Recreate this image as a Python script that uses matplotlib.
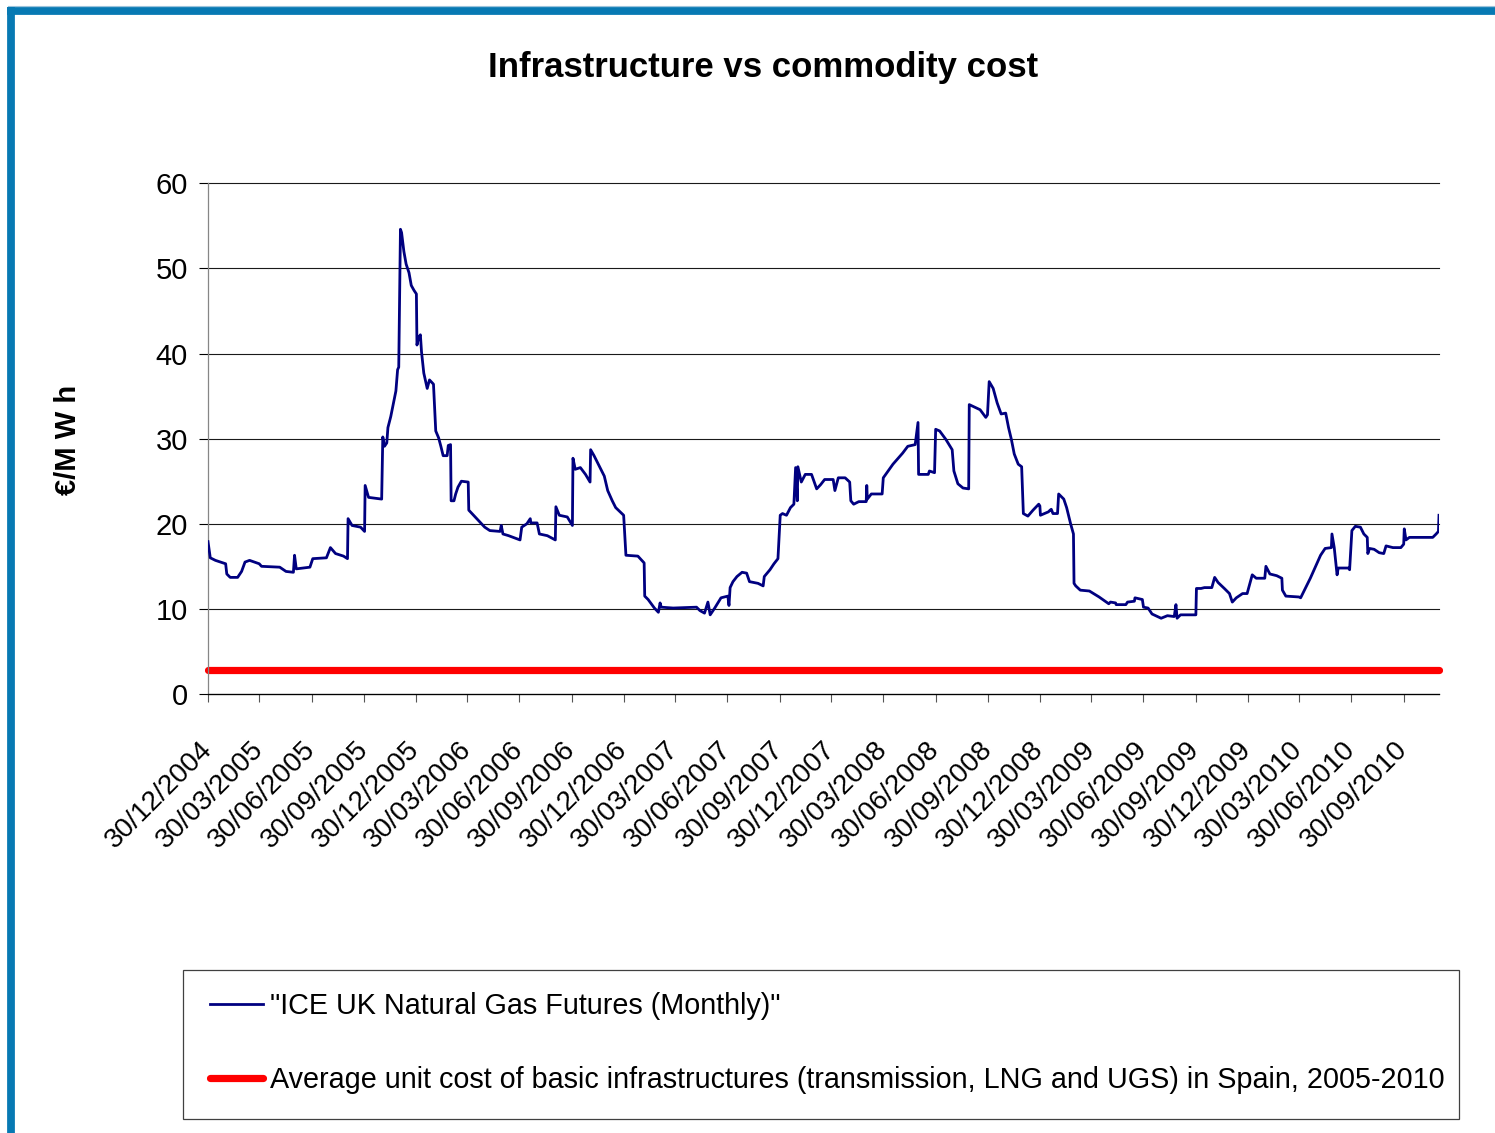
import matplotlib
matplotlib.use('Agg')
import matplotlib.pyplot as plt
from matplotlib import font_manager as fm
from matplotlib.lines import Line2D
from matplotlib.patches import Rectangle
import pandas as pd

# ---------------- data ----------------
title = "Infrastructure vs commodity cost"
y_label = "€/M W h"
gas_label = '"ICE UK Natural Gas Futures (Monthly)"'
infra_label = "Average unit cost of basic infrastructures (transmission, LNG and UGS) in Spain, 2005-2010"

gas_dates = [
    "2004-12-30", "2005-01-03", "2005-01-12", "2005-01-21", "2005-01-30", "2005-02-01", "2005-02-07",
    "2005-02-20", "2005-02-27", "2005-03-05", "2005-03-13", "2005-03-30", "2005-04-03", "2005-05-05",
    "2005-05-16", "2005-05-29", "2005-05-31", "2005-06-03", "2005-06-27", "2005-07-02", "2005-07-26",
    "2005-08-02", "2005-08-11", "2005-08-25", "2005-09-01", "2005-09-02", "2005-09-09", "2005-09-24",
    "2005-10-01", "2005-10-02", "2005-10-08", "2005-10-31", "2005-11-02", "2005-11-05", "2005-11-09",
    "2005-11-11", "2005-11-16", "2005-11-19", "2005-11-25", "2005-11-28", "2005-11-30", "2005-12-03",
    "2005-12-05", "2005-12-09", "2005-12-13", "2005-12-18", "2005-12-22", "2005-12-27", "2005-12-31",
    "2006-01-01", "2006-01-04", "2006-01-07", "2006-01-09", "2006-01-13", "2006-01-19", "2006-01-23",
    "2006-01-30", "2006-02-03", "2006-02-08", "2006-02-12", "2006-02-16", "2006-02-23", "2006-02-25",
    "2006-03-01", "2006-03-02", "2006-03-07", "2006-03-10", "2006-03-14", "2006-03-20", "2006-04-01",
    "2006-04-02", "2006-04-16", "2006-04-30", "2006-05-09", "2006-05-27", "2006-05-29", "2006-06-01",
    "2006-06-11", "2006-07-01", "2006-07-04", "2006-07-13", "2006-07-19", "2006-07-20", "2006-07-31",
    "2006-08-04", "2006-08-18", "2006-09-01", "2006-09-02", "2006-09-08", "2006-09-22", "2006-10-01",
    "2006-10-02", "2006-10-06", "2006-10-15", "2006-10-24", "2006-11-01", "2006-11-02", "2006-11-08",
    "2006-11-17", "2006-11-26", "2006-12-02", "2006-12-10", "2006-12-16", "2006-12-30", "2007-01-03",
    "2007-01-24", "2007-02-04", "2007-02-05", "2007-02-11", "2007-02-22", "2007-03-01", "2007-03-04",
    "2007-03-06", "2007-03-27", "2007-05-07", "2007-05-13", "2007-05-21", "2007-05-27", "2007-05-31",
    "2007-06-08", "2007-06-19", "2007-07-01", "2007-07-03", "2007-07-05", "2007-07-10", "2007-07-17",
    "2007-07-26", "2007-08-03", "2007-08-08", "2007-08-23", "2007-09-01", "2007-09-03", "2007-09-13",
    "2007-09-20", "2007-09-27", "2007-10-01", "2007-10-05", "2007-10-12", "2007-10-19", "2007-10-25",
    "2007-10-28", "2007-10-31", "2007-11-01", "2007-11-07", "2007-11-14", "2007-11-25", "2007-12-04",
    "2007-12-11", "2007-12-18", "2008-01-02", "2008-01-05", "2008-01-11", "2008-01-23", "2008-01-31",
    "2008-02-02", "2008-02-07", "2008-02-16", "2008-02-29", "2008-03-01", "2008-03-02", "2008-03-09",
    "2008-03-28", "2008-03-30", "2008-04-16", "2008-05-03", "2008-05-12", "2008-05-25", "2008-05-30",
    "2008-05-31", "2008-06-17", "2008-06-19", "2008-06-28", "2008-06-30", "2008-07-07", "2008-07-18",
    "2008-07-29", "2008-08-01", "2008-08-08", "2008-08-17", "2008-08-27", "2008-08-28", "2008-09-16",
    "2008-09-26", "2008-09-29", "2008-10-02", "2008-10-09", "2008-10-16", "2008-10-23", "2008-10-31",
    "2008-11-05", "2008-11-10", "2008-11-15", "2008-11-22", "2008-11-28", "2008-12-01", "2008-12-09",
    "2008-12-18", "2008-12-28", "2008-12-30", "2008-12-31", "2009-01-14", "2009-01-17", "2009-01-19",
    "2009-01-22", "2009-01-30", "2009-02-01", "2009-02-10", "2009-02-15", "2009-02-19", "2009-02-22",
    "2009-02-27", "2009-02-28", "2009-03-03", "2009-03-11", "2009-03-27", "2009-04-13", "2009-04-30",
    "2009-05-03", "2009-05-12", "2009-05-13", "2009-05-30", "2009-06-02", "2009-06-14", "2009-06-15",
    "2009-06-28", "2009-06-30", "2009-07-08", "2009-07-15", "2009-07-31", "2009-08-11", "2009-08-23",
    "2009-08-26", "2009-08-28", "2009-09-03", "2009-09-30", "2009-10-01", "2009-10-09", "2009-10-15",
    "2009-10-28", "2009-11-02", "2009-11-08", "2009-11-19", "2009-11-28", "2009-12-03", "2009-12-10",
    "2009-12-21", "2009-12-29", "2010-01-07", "2010-01-14", "2010-01-29", "2010-01-31", "2010-02-07",
    "2010-02-19", "2010-02-28", "2010-03-01", "2010-03-07", "2010-03-30", "2010-04-02", "2010-04-19",
    "2010-05-07", "2010-05-15", "2010-05-26", "2010-05-27", "2010-05-31", "2010-06-05", "2010-06-07",
    "2010-06-25", "2010-06-27", "2010-07-01", "2010-07-07", "2010-07-16", "2010-07-22", "2010-07-28",
    "2010-07-29", "2010-08-01", "2010-08-09", "2010-08-18", "2010-08-26", "2010-08-30", "2010-09-11",
    "2010-09-25", "2010-09-30", "2010-10-01", "2010-10-04", "2010-10-10", "2010-11-20", "2010-11-26",
    "2010-11-30", "2010-12-01",
]
gas_values = [
    17.9, 16.0, 15.7, 15.5, 15.3, 14.1, 13.7,
    13.7, 14.4, 15.5, 15.7, 15.3, 15.0, 14.9,
    14.4, 14.3, 16.3, 14.7, 14.9, 15.9, 16.0,
    17.2, 16.5, 16.2, 15.9, 20.6, 19.8, 19.6,
    19.1, 24.5, 23.1, 22.9, 30.2, 29.1, 29.5,
    31.3, 32.6, 33.6, 35.6, 38.1, 38.4, 54.6,
    54.2, 52.0, 50.5, 49.5, 48.0, 47.4, 47.0,
    41.0, 41.9, 42.2, 40.2, 37.7, 35.9, 36.9,
    36.4, 30.9, 30.1, 29.1, 28.0, 28.0, 29.2,
    29.3, 22.7, 22.7, 23.5, 24.3, 25.0, 24.9,
    21.6, 20.6, 19.6, 19.2, 19.1, 19.8, 18.8,
    18.6, 18.1, 19.6, 20.0, 20.6, 20.1, 20.1,
    18.8, 18.6, 18.1, 22.0, 21.0, 20.8, 19.8,
    27.7, 26.4, 26.6, 25.8, 24.9, 28.7, 28.0,
    26.8, 25.6, 23.9, 22.7, 21.9, 21.0, 16.3,
    16.2, 15.4, 11.5, 11.1, 10.1, 9.6, 10.7,
    10.2, 10.1, 10.2, 9.8, 9.5, 10.8, 9.3,
    10.1, 11.3, 11.5, 10.4, 12.5, 13.2, 13.8,
    14.3, 14.2, 13.2, 13.0, 12.7, 13.8, 14.6,
    15.3, 15.9, 21.0, 21.2, 21.0, 21.9, 22.3,
    26.6, 22.7, 26.7, 24.9, 25.8, 25.8, 24.1,
    24.6, 25.2, 25.2, 23.9, 25.4, 25.4, 24.9,
    22.7, 22.3, 22.6, 22.6, 24.5, 22.9, 23.5,
    23.5, 25.4, 27.0, 28.3, 29.1, 29.3, 31.9,
    25.8, 25.8, 26.2, 26.0, 31.1, 30.9, 29.9,
    28.7, 26.2, 24.7, 24.2, 24.1, 34.0, 33.4,
    32.5, 32.8, 36.7, 35.9, 34.2, 32.9, 33.0,
    31.3, 29.9, 28.2, 27.0, 26.7, 21.2, 20.9,
    21.6, 22.3, 22.1, 21.0, 21.4, 21.6, 21.7,
    21.2, 21.2, 23.5, 22.9, 21.9, 20.8, 20.0,
    18.8, 13.0, 12.7, 12.2, 12.1, 11.4, 10.6,
    10.8, 10.7, 10.5, 10.5, 10.8, 10.9, 11.3,
    11.1, 10.2, 10.1, 9.4, 8.9, 9.2, 9.1,
    10.5, 8.9, 9.3, 9.3, 12.4, 12.4, 12.5,
    12.5, 13.7, 13.1, 12.4, 11.8, 10.8, 11.3,
    11.8, 11.8, 14.0, 13.6, 13.6, 15.0, 14.1,
    13.9, 13.6, 12.2, 11.5, 11.4, 11.3, 13.6,
    16.3, 17.1, 17.2, 18.8, 17.2, 14.0, 14.8,
    14.8, 14.6, 19.2, 19.7, 19.6, 18.8, 18.4,
    16.5, 17.1, 17.0, 16.6, 16.5, 17.4, 17.2,
    17.2, 17.6, 19.4, 18.1, 18.4, 18.4, 18.8,
    19.1, 21.0,
]

infra_dates = ["2004-12-30", "2010-12-01"]
infra_values = [2.8, 2.8]

tick_labels = [
    "30/12/2004", "30/03/2005", "30/06/2005", "30/09/2005", "30/12/2005", "30/03/2006",
    "30/06/2006", "30/09/2006", "30/12/2006", "30/03/2007", "30/06/2007", "30/09/2007",
    "30/12/2007", "30/03/2008", "30/06/2008", "30/09/2008", "30/12/2008", "30/03/2009",
    "30/06/2009", "30/09/2009", "30/12/2009", "30/03/2010", "30/06/2010", "30/09/2010",
]
y_ticks = [0, 10, 20, 30, 40, 50, 60]
x_range = ["2004-12-30", "2010-12-01"]

# ---------------- fonts ----------------
def has_font(name):
    try:
        fm.findfont(fm.FontProperties(family=name), fallback_to_default=False)
        return True
    except Exception:
        return False

if has_font("Liberation Sans Narrow"):
    NARROW, NSCALE = "Liberation Sans Narrow", 1.0
else:
    NARROW, NSCALE = "Liberation Sans", 0.828

plt.rcParams["font.family"] = ["Liberation Sans", "DejaVu Sans"]

W, H = 1495, 1133
def fx(px):
    return px / W
def fy(py):
    return 1 - py / H

fig = plt.figure(figsize=(W / 100, H / 100), dpi=100)
fig.patch.set_facecolor("white")

ax = fig.add_axes([fx(208), fy(694), (1439 - 208) / W, (694 - 183.3) / H])

gx = pd.to_datetime(gas_dates)
ix = pd.to_datetime(infra_dates)

l_gas, = ax.plot(gx, gas_values, color="#000080", lw=2.0, zorder=4, label=gas_label)
l_inf, = ax.plot(ix, infra_values, color="#FF0000", lw=5.2, solid_capstyle="round",
                 zorder=2, clip_on=False, label=infra_label)

ax.set_xlim(pd.to_datetime(x_range[0]), pd.to_datetime(x_range[1]))
ax.set_ylim(0, 60)
ax.set_yticks(y_ticks)
ax.set_yticklabels([str(v) for v in y_ticks], fontsize=21)
ax.yaxis.grid(True, color="#1a1a1a", lw=0.8)
for gl in ax.get_ygridlines():
    gl.set_clip_on(False)
ax.set_axisbelow(True)

tick_dates = pd.to_datetime(tick_labels, dayfirst=True, format="%d/%m/%Y")
ax.set_xticks(tick_dates)
ax.set_xticklabels(tick_labels, fontsize=20)
for lab in ax.get_xticklabels():
    lab.set_rotation(45)
    lab.set_ha("right")
    lab.set_va("center")
    lab.set_rotation_mode("anchor")

ax.tick_params(axis="x", direction="out", length=6, width=0.8, color="#555555", pad=31)
ax.tick_params(axis="y", direction="out", length=6.5, width=0.8, color="#000000", pad=8)

for s in ("top", "right"):
    ax.spines[s].set_visible(False)
ax.spines["left"].set_color("#868686")
ax.spines["left"].set_linewidth(0.9)
ax.spines["bottom"].set_color("#000000")
ax.spines["bottom"].set_linewidth(0.9)

ax.set_ylabel(y_label, fontsize=21, fontweight="bold")
ax.yaxis.set_label_coords((68.5 - 208) / (1439 - 208), (694 - 440) / (694 - 183.3))
ax.yaxis.label.set_verticalalignment("center")

fig.text(fx(763.5), fy(77.5), title, ha="center", va="baseline",
         fontsize=30.5 * (NSCALE if NSCALE == 1.0 else 0.82), fontweight="bold", family=NARROW)

# legend (frame drawn as separate box)
lfs = 25 * NSCALE
lfs_px = lfs * 100 / 72
row_h = 0.91 * lfs_px
leg = fig.legend(handles=[l_gas, l_inf], labels=[gas_label, infra_label],
                 loc="upper left", bbox_to_anchor=(fx(210), fy(1005 - row_h / 2)),
                 frameon=False, borderpad=0, borderaxespad=0,
                 handlelength=53 / lfs_px, handletextpad=7 / lfs_px,
                 labelspacing=(72 - row_h) / lfs_px,
                 prop=fm.FontProperties(family=NARROW, size=lfs))
fig.add_artist(Rectangle((fx(183), fy(1119)), (1459 - 183) / W, (1119 - 970) / H,
                         transform=fig.transFigure, fill=False, edgecolor="#404040", lw=0.9))

# blue frame of the slide
fig.add_artist(Line2D([fx(8), 1], [fy(5.5), fy(5.5)], transform=fig.transFigure,
                      color="#9CC4DC", lw=0.8))
fig.add_artist(Line2D([fx(7.3), 1], [fy(11.2), fy(11.2)], transform=fig.transFigure,
                      color="#0779B3", lw=5.6, solid_capstyle="butt"))
fig.add_artist(Line2D([fx(11.2), fx(11.2)], [fy(7.3), 0], transform=fig.transFigure,
                      color="#0779B3", lw=5.6, solid_capstyle="butt"))

fig.savefig("out.png", dpi=100)
